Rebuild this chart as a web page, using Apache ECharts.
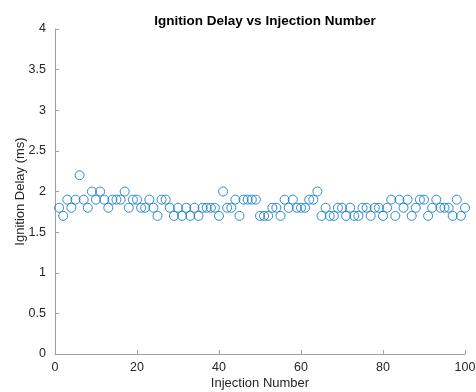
<!DOCTYPE html>
<html><head><meta charset="utf-8">
<script src="https://cdn.jsdelivr.net/npm/echarts@6/dist/echarts.min.js"></script>
<style>html,body{margin:0;padding:0;background:#fff}#c{width:476px;height:392px}</style>
</head><body><div id="c"></div>
<script>
const injection = Array.from({length:100},(_,i)=>i+1);
const delay = [1.8,1.7,1.9,1.8,1.9,2.2,1.9,1.8,2.0,1.9,
2.0,1.9,1.8,1.9,1.9,1.9,2.0,1.8,1.9,1.9,
1.8,1.8,1.9,1.8,1.7,1.9,1.9,1.8,1.7,1.8,
1.7,1.8,1.7,1.8,1.7,1.8,1.8,1.8,1.8,1.7,
2.0,1.8,1.8,1.9,1.7,1.9,1.9,1.9,1.9,1.7,
1.7,1.7,1.8,1.8,1.7,1.9,1.8,1.9,1.8,1.8,
1.8,1.9,1.9,2.0,1.7,1.8,1.7,1.7,1.8,1.8,
1.7,1.8,1.7,1.7,1.8,1.8,1.7,1.8,1.8,1.7,
1.8,1.9,1.7,1.9,1.8,1.9,1.7,1.8,1.9,1.9,
1.7,1.8,1.9,1.8,1.8,1.8,1.7,1.9,1.7,1.8];
const xTicks = [0,20,40,60,80,100];
const yTicks = [0,0.5,1,1.5,2,2.5,3,3.5,4];

const chart = echarts.init(document.getElementById('c'));
const font = 'Liberation Sans, Arial';
const axisCommon = {
  axisLine:{show:true,lineStyle:{color:'#a0a0a0',width:1}},
  axisTick:{show:true,inside:true,length:4,lineStyle:{color:'#a0a0a0'}},
  splitLine:{show:false}
};
chart.setOption({
  animation:false,
  title:{text:'Ignition Delay vs Injection Number',left:260,top:9,textAlign:'center',
    textStyle:{fontSize:13.5,fontWeight:'bold',color:'#000',fontFamily:font}},
  grid:{left:55,right:11,top:29,bottom:38,containLabel:false,outerBoundsMode:'none'},
  xAxis:Object.assign({type:'value',min:0,max:100,interval:20,
    name:'Injection Number',nameLocation:'middle',nameGap:23,nameMoveOverlap:false,
    nameTextStyle:{color:'#262626',fontSize:13,fontFamily:font}},axisCommon,
    {axisLabel:{color:'#262626',fontSize:12.5,fontFamily:font,margin:7,formatter:v=>xTicks.includes(v)?String(v):''}}),
  yAxis:Object.assign({type:'value',min:0,max:4,interval:0.5,
    name:'Ignition Delay (ms)',nameLocation:'middle',nameGap:28,nameMoveOverlap:false,
    nameTextStyle:{color:'#262626',fontSize:13,fontFamily:font}},axisCommon,
    {axisLabel:{color:'#262626',fontSize:12.5,fontFamily:font,margin:9,formatter:v=>yTicks.includes(v)?String(v):''}}),
  series:[{type:'scatter',symbol:'circle',symbolSize:9,
    itemStyle:{color:'rgba(0,0,0,0)',borderColor:'#1a7fc4',borderWidth:0.9,opacity:1},
    data:injection.map((x,i)=>[x,delay[i]])}]
});
</script></body></html>
